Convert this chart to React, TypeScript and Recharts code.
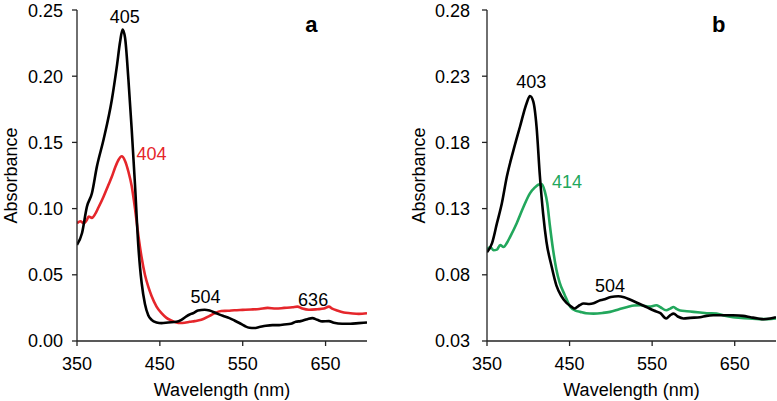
import React from "react";
import { LineChart, Line, XAxis, YAxis, ReferenceDot, Label } from "recharts";

// panel a – black trace
const wlBlackA = [350, 356, 362, 368, 374, 382, 392, 398, 402, 405, 408, 412, 416, 420, 424, 426, 428, 432, 436, 440, 446, 452, 460, 470, 476, 482, 486, 490, 496, 504, 510, 518, 526, 534, 540, 546, 552, 558, 564, 570, 578, 586, 594, 600, 608, 614, 620, 628, 634, 640, 646, 654, 660, 670, 680, 690, 700];
const absBlackA = [0.0726, 0.0814, 0.1015, 0.1116, 0.1317, 0.152, 0.182, 0.207, 0.226, 0.2353, 0.229, 0.198, 0.16, 0.118, 0.072, 0.056, 0.044, 0.028, 0.0195, 0.016, 0.014, 0.0135, 0.014, 0.0145, 0.016, 0.0186, 0.02, 0.021, 0.023, 0.0236, 0.023, 0.021, 0.019, 0.0173, 0.0155, 0.0136, 0.0115, 0.01, 0.0098, 0.0105, 0.0115, 0.012, 0.012, 0.0125, 0.013, 0.0145, 0.015, 0.0165, 0.0173, 0.016, 0.0148, 0.015, 0.0138, 0.013, 0.013, 0.0135, 0.014];

// panel a – red trace
const wlRedA = [350, 354, 358, 362, 364, 368, 372, 376, 382, 388, 392, 396, 400, 404, 408, 412, 416, 420, 424, 428, 432, 436, 440, 446, 452, 458, 464, 470, 474, 480, 486, 492, 500, 510, 516, 524, 532, 540, 550, 560, 570, 580, 590, 600, 610, 616, 622, 630, 640, 648, 654, 658, 664, 672, 680, 690, 700];
const absRedA = [0.089, 0.0905, 0.089, 0.0915, 0.094, 0.093, 0.096, 0.101, 0.109, 0.118, 0.124, 0.131, 0.1367, 0.1395, 0.136, 0.128, 0.117, 0.1, 0.08, 0.063, 0.05, 0.041, 0.034, 0.026, 0.021, 0.0175, 0.0155, 0.014, 0.0136, 0.0138, 0.0145, 0.015, 0.016, 0.019, 0.021, 0.0226, 0.0228, 0.0232, 0.0235, 0.0238, 0.0242, 0.025, 0.0245, 0.025, 0.0255, 0.026, 0.0245, 0.0236, 0.024, 0.0245, 0.026, 0.0245, 0.023, 0.0215, 0.021, 0.0205, 0.021];

// panel b – black trace
const wlBlackB = [350, 356, 362, 368, 374, 382, 390, 398, 402, 406, 410, 414, 418, 422, 428, 434, 440, 446, 452, 456, 462, 467, 474, 479, 486, 491, 500, 509, 516, 523, 533, 543, 552, 560, 567, 572, 576, 581, 588, 596, 608, 616, 624, 636, 648, 660, 669, 678, 685, 693, 700];
const absBlackB = [0.097, 0.1037, 0.1188, 0.134, 0.154, 0.174, 0.192, 0.2096, 0.215, 0.211, 0.192, 0.155, 0.126, 0.105, 0.087, 0.072, 0.064, 0.059, 0.056, 0.0545, 0.057, 0.0583, 0.058, 0.0585, 0.0605, 0.0613, 0.0632, 0.0638, 0.063, 0.0613, 0.0585, 0.0557, 0.053, 0.051, 0.047, 0.0495, 0.0507, 0.0485, 0.047, 0.0475, 0.048, 0.049, 0.0494, 0.0495, 0.0494, 0.049, 0.048, 0.047, 0.0464, 0.047, 0.048];

// panel b – green trace
const wlGreenB = [350, 354, 358, 362, 366, 370, 374, 378, 386, 394, 402, 408, 412, 416, 420, 423, 426, 430, 434, 438, 444, 451, 457, 463, 470, 479, 490, 499, 510, 520, 528, 536, 547, 555, 560, 567, 572, 576, 580, 584, 592, 600, 608, 616, 628, 638, 648, 658, 668, 680, 690, 700];
const absGreenB = [0.099, 0.101, 0.0985, 0.099, 0.1024, 0.101, 0.104, 0.1087, 0.119, 0.131, 0.1415, 0.146, 0.148, 0.1485, 0.143, 0.134, 0.118, 0.099, 0.084, 0.074, 0.065, 0.0557, 0.053, 0.052, 0.051, 0.0507, 0.0512, 0.052, 0.054, 0.0557, 0.0568, 0.057, 0.056, 0.057, 0.0555, 0.0532, 0.0545, 0.0557, 0.054, 0.053, 0.0525, 0.052, 0.0515, 0.051, 0.0507, 0.049, 0.048, 0.0475, 0.047, 0.0465, 0.0465, 0.047];

const xTicks = [350, 450, 550, 650];
const yTicksA = [0, 0.05, 0.1, 0.15, 0.2, 0.25];
const yTicksB = [0.03, 0.08, 0.13, 0.18, 0.23, 0.28];

// peak labels: [wavelength, absorbance, text]
const blackLabelsA: [number, number, string][] = [[407.7, 0.24, "405"], [505, 0.029, "504"], [635, 0.0266, "636"]];
const redLabelsA: [number, number, string][] = [[440, 0.1367, "404"]];
const blackLabelsB: [number, number, string][] = [[403.6, 0.221, "403"], [499, 0.067, "504"]];
const greenLabelsB: [number, number, string][] = [[447, 0.1455, "414"]];

const FONT = "'Liberation Sans', Arial, sans-serif";
const RED = "#e5262b";
const GREEN = "#22a75c";

const zip = (wl: number[], abs: number[]) => wl.map((w, i) => ({ wl: w, abs: abs[i] }));

type Series = { data: { wl: number; abs: number }[]; color: string };
type PanelProps = {
  width: number;
  yWidth: number;
  right: number;
  tickMargin: number;
  titleX: number;
  domain: [number, number];
  ticks: number[];
  series: Series[];
  labels: { items: [number, number, string][]; color: string }[];
  letter: [number, number, string];
};

const Panel: React.FC<PanelProps> = (p) => {
  const YTitle = (props: any) => {
    const vb = props.viewBox || {};
    const cx = (vb.x ?? 0) + p.titleX;
    const cy = (vb.y ?? 10) + (vb.height ?? 331) / 2;
    return (
      <text x={cx} y={cy} transform={`rotate(-90 ${cx} ${cy})`} textAnchor="middle" fontSize={18} fill="#000" fontFamily={FONT}>
        Absorbance
      </text>
    );
  };

  return (
    <LineChart width={p.width} height={401} margin={{ top: 10, right: p.right, bottom: 0, left: 0 }}>
      <XAxis
        type="number"
        dataKey="wl"
        domain={[350, 700]}
        ticks={xTicks}
        allowDataOverflow
        height={60}
        tickSize={5}
        tickMargin={11}
        axisLine={{ stroke: "#222", strokeWidth: 1.3 }}
        tickLine={{ stroke: "#222", strokeWidth: 1.3 }}
        tick={{ fill: "#000", fontSize: 18, fontFamily: FONT }}
      >
        <Label value="Wavelength (nm)" position="insideBottom" offset={5} fontSize={18} fill="#000" fontFamily={FONT} />
      </XAxis>
      <YAxis
        type="number"
        domain={p.domain}
        ticks={p.ticks}
        allowDataOverflow
        width={p.yWidth}
        tickSize={5}
        tickMargin={p.tickMargin}
        tickFormatter={(v: number) => v.toFixed(2)}
        axisLine={{ stroke: "#222", strokeWidth: 1.3 }}
        tickLine={{ stroke: "#222", strokeWidth: 1.3 }}
        tick={{ fill: "#000", fontSize: 18, fontFamily: FONT }}
      >
        <Label content={YTitle} />
      </YAxis>
      {p.series.map((s, i) => (
        <Line
          key={i}
          data={s.data}
          dataKey="abs"
          type="monotone"
          stroke={s.color}
          strokeWidth={2.6}
          dot={false}
          activeDot={false}
          isAnimationActive={false}
        />
      ))}
      {p.labels.flatMap((g, gi) =>
        g.items.map(([wl, abs, text], i) => (
          <ReferenceDot
            key={`${gi}-${i}`}
            x={wl}
            y={abs}
            r={0}
            ifOverflow="visible"
            shape={(sp: any) => (
              <text x={sp.cx} y={sp.cy} textAnchor="middle" fontSize={18} fill={g.color} fontFamily={FONT}>
                {text}
              </text>
            )}
          />
        ))
      )}
      <ReferenceDot
        x={p.letter[0]}
        y={p.letter[1]}
        r={0}
        ifOverflow="visible"
        shape={(sp: any) => (
          <text x={sp.cx} y={sp.cy} textAnchor="middle" fontSize={22} fontWeight="bold" fill="#000" fontFamily={FONT}>
            {p.letter[2]}
          </text>
        )}
      />
    </LineChart>
  );
};

export default function App() {
  return (
    <div style={{ position: "absolute", left: 0, top: 0, width: 777, height: 401, background: "#fff", fontFamily: FONT }}>
      <div style={{ position: "absolute", left: 0, top: 0 }}>
        <Panel
          width={390}
          yWidth={77}
          right={23}
          tickMargin={9}
          titleX={17}
          domain={[0, 0.25]}
          ticks={yTicksA}
          series={[
            { data: zip(wlRedA, absRedA), color: RED },
            { data: zip(wlBlackA, absBlackA), color: "#000" },
          ]}
          labels={[
            { items: blackLabelsA, color: "#000" },
            { items: redLabelsA, color: RED },
          ]}
          letter={[633, 0.2333, "a"]}
        />
      </div>
      <div style={{ position: "absolute", left: 390, top: 0 }}>
        <Panel
          width={387}
          yWidth={97}
          right={1}
          tickMargin={12}
          titleX={35}
          domain={[0.03, 0.28]}
          ticks={yTicksB}
          series={[
            { data: zip(wlGreenB, absGreenB), color: GREEN },
            { data: zip(wlBlackB, absBlackB), color: "#000" },
          ]}
          labels={[
            { items: blackLabelsB, color: "#000" },
            { items: greenLabelsB, color: GREEN },
          ]}
          letter={[630.6, 0.2635, "b"]}
        />
      </div>
    </div>
  );
}
